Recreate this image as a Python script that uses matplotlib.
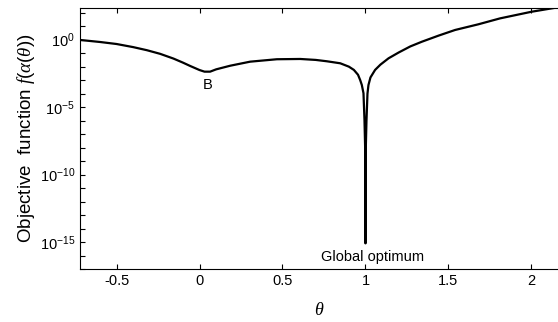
import numpy as np
import matplotlib.pyplot as plt
from matplotlib.ticker import LogLocator, NullFormatter

plt.rcParams['font.family'] = ['Liberation Sans', 'DejaVu Sans']
plt.rcParams['mathtext.fontset'] = 'custom'
plt.rcParams['mathtext.rm'] = 'Liberation Sans'
plt.rcParams['mathtext.it'] = 'Liberation Serif:italic'
plt.rcParams['axes.unicode_minus'] = False

# values: theta and decade of the objective value
theta = [-0.72, -0.6, -0.5, -0.4, -0.317, -0.237, -0.157, -0.1, -0.056, 0.0,
         0.03, 0.064, 0.1, 0.185, 0.305, 0.466, 0.607, 0.7, 0.767, 0.848,
         0.9, 0.93, 0.955, 0.968, 0.978, 0.988, 0.994, 0.998, 0.9995, 1.0,
         1.0005, 1.002, 1.006, 1.012, 1.018, 1.03, 1.058, 1.09, 1.139, 1.2,
         1.27, 1.34, 1.44, 1.54, 1.68, 1.811, 2.0, 2.16]
log_f = [-0.02, -0.17, -0.32, -0.55, -0.78, -1.05, -1.4, -1.7, -1.95, -2.25,
         -2.37, -2.37, -2.2, -1.93, -1.63, -1.45, -1.43, -1.5, -1.6, -1.75,
         -2.0, -2.24, -2.6, -2.99, -3.36, -3.97, -5.95, -8.0, -10.0, -15.1,
         -10.0, -8.0, -6.0, -4.0, -3.36, -2.8, -2.24, -1.85, -1.38, -0.95,
         -0.5, -0.15, 0.3, 0.72, 1.14, 1.58, 2.07, 2.4]
f_val = 10.0 ** np.array(log_f)

fig = plt.figure(figsize=(5.58, 3.22), dpi=100)
ax = fig.add_axes([0.1434, 0.1646, 0.8566, 0.8106])
ax.semilogy(theta, f_val, color='black', linewidth=1.6)

ax.set_xlim(-0.72, 2.16)
ax.set_ylim(1e-17, 10 ** 2.35)
ax.set_xticks([-0.5, 0, 0.5, 1, 1.5, 2])
ax.set_xticklabels(['-0.5', '0', '0.5', '1', '1.5', '2'])
ax.set_yticks([1e-15, 1e-10, 1e-5, 1e0])
ax.yaxis.set_minor_locator(LogLocator(base=10, subs=[1.0], numticks=40))
ax.yaxis.set_minor_formatter(NullFormatter())
ax.tick_params(which='both', direction='in', length=3.5, width=0.8,
               top=True, right=False, labelsize=10.5)
ax.spines['right'].set_visible(False)

ax.text(0.05, 10 ** -3.36, 'B', ha='center', va='center', fontsize=10.5)
ax.text(1.04, 10 ** -16.1, 'Global optimum', ha='center', va='center', fontsize=10.5)

ax.set_xlabel(r'$\theta$', fontsize=13, labelpad=10)
ax.set_ylabel(r'Objective  function $f(\alpha(\theta))$', fontsize=13.5, labelpad=2)

fig.savefig('out.png', dpi=100)
